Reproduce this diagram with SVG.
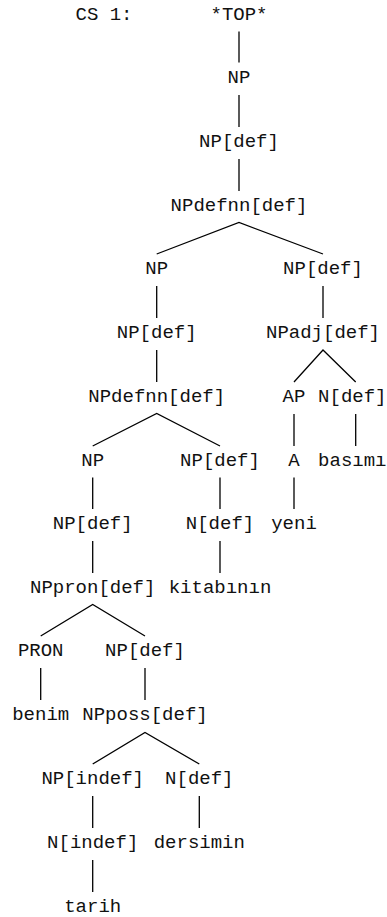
<svg xmlns="http://www.w3.org/2000/svg" width="387" height="917" viewBox="0 0 387 917">
<style>
text{font-family:"Liberation Mono","Courier New",monospace;font-size:19px;fill:#111;text-anchor:middle}
.c line,.c polyline{stroke:#000;stroke-width:1.3;fill:none}
</style>
<rect width="387" height="917" fill="#fff"/>
<g class="c" id="connectors">
<line x1="239" y1="31.5" x2="239" y2="62.5"/>
<line x1="239" y1="95" x2="239" y2="127"/>
<line x1="239" y1="159" x2="239" y2="191"/>
<polyline points="156.7,254 239,222.5 323,254"/>
<line x1="156.7" y1="286" x2="156.7" y2="318"/>
<line x1="323" y1="286" x2="323" y2="318"/>
<line x1="156.7" y1="350" x2="156.7" y2="382"/>
<polyline points="294,382 323,350 355.7,382"/>
<polyline points="92.7,446 156.7,413.5 220,446"/>
<line x1="294" y1="414" x2="294" y2="446"/>
<line x1="355.7" y1="414" x2="355.7" y2="446"/>
<line x1="92.7" y1="477.5" x2="92.7" y2="509"/>
<line x1="220" y1="477.5" x2="220" y2="509"/>
<line x1="294" y1="477.5" x2="294" y2="509"/>
<line x1="92.7" y1="541" x2="92.7" y2="573"/>
<line x1="220" y1="541" x2="220" y2="573"/>
<polyline points="40.7,636 92.7,604.5 145,636"/>
<line x1="40.7" y1="668" x2="40.7" y2="700"/>
<line x1="145" y1="668" x2="145" y2="700"/>
<polyline points="92.7,764 145,732.5 199.3,764"/>
<line x1="92.7" y1="796" x2="92.7" y2="828"/>
<line x1="199.3" y1="796" x2="199.3" y2="828"/>
<line x1="92.7" y1="860" x2="92.7" y2="892"/>
</g>
<g id="label"><text x="75.5" y="20" style="text-anchor:start">CS 1:</text></g>
<g id="n0"><text x="239" y="20">*TOP*</text></g>
<g id="n1"><text x="239" y="82.5">NP</text></g>
<g id="n2"><text x="239" y="147">NP[def]</text></g>
<g id="n3"><text x="239" y="211">NPdefnn[def]</text></g>
<g id="n4"><text x="156.7" y="274">NP</text></g>
<g id="n5"><text x="323" y="274">NP[def]</text></g>
<g id="n6"><text x="156.7" y="338">NP[def]</text></g>
<g id="n7"><text x="323" y="338">NPadj[def]</text></g>
<g id="n8"><text x="156.7" y="402">NPdefnn[def]</text></g>
<g id="n9"><text x="294" y="402">AP</text></g>
<g id="n10"><text x="352.3" y="402">N[def]</text></g>
<g id="n11"><text x="92.7" y="466">NP</text></g>
<g id="n12"><text x="220" y="466">NP[def]</text></g>
<g id="n13"><text x="294" y="466">A</text></g>
<g id="n14"><text x="352.3" y="466">basımı</text></g>
<g id="n15"><text x="92.7" y="529">NP[def]</text></g>
<g id="n16"><text x="220" y="529">N[def]</text></g>
<g id="n17"><text x="294" y="529">yeni</text></g>
<g id="n18"><text x="92.7" y="593">NPpron[def]</text></g>
<g id="n19"><text x="220" y="593">kitabının</text></g>
<g id="n20"><text x="40.7" y="656">PRON</text></g>
<g id="n21"><text x="145" y="656">NP[def]</text></g>
<g id="n22"><text x="40.7" y="720">benim</text></g>
<g id="n23"><text x="145" y="720">NPposs[def]</text></g>
<g id="n24"><text x="92.7" y="784">NP[indef]</text></g>
<g id="n25"><text x="199.3" y="784">N[def]</text></g>
<g id="n26"><text x="92.7" y="848">N[indef]</text></g>
<g id="n27"><text x="199.3" y="848">dersimin</text></g>
<g id="n28"><text x="92.7" y="912">tarih</text></g>
</svg>
